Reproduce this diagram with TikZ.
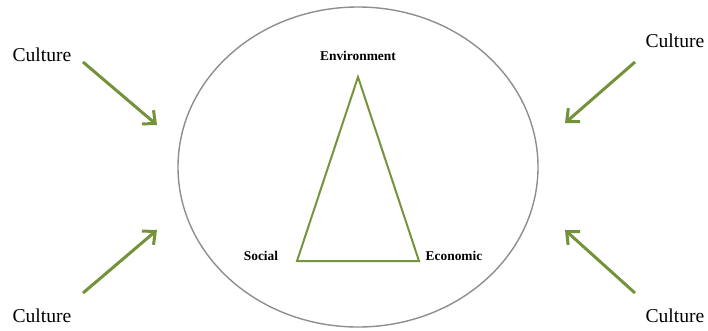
\documentclass[tikz,border=0pt]{standalone}
\usepackage{fontspec}
\setmainfont{Liberation Serif}
\usetikzlibrary{arrows.meta}
\definecolor{olivearrow}{HTML}{73923A}
\definecolor{olivetri}{HTML}{77933C}
\definecolor{ringgray}{HTML}{8E8E8E}
\tikzset{
  culture/.style={font=\fontsize{19.6}{22}\selectfont, inner sep=0pt},
  pillar/.style={font=\bfseries\fontsize{13.4}{15}\selectfont, inner sep=0pt},
  influence/.style={draw=olivearrow, line width=3pt, -{Straight Barb[length=10pt,width=18pt]}},
  ring/.style={draw=ringgray, line width=1.4pt},
  tri/.style={draw=olivetri, line width=2pt, line join=miter}
}
\begin{document}
\begin{tikzpicture}[x=1pt,y=-1pt]
\useasboundingbox (0,0) rectangle (708,330);
\draw[ring] (358,167) ellipse [x radius=180, y radius=160];
% triangle
\coordinate (apex) at (358,77);
\coordinate (bl) at (297,261);
\coordinate (br) at (419,261);
\draw[tri] (apex) -- (br) -- (bl) -- cycle;
\node[pillar] (env) at (358,56) {Environment};
\node[pillar] (soc) at (261,256) {Social};
\node[pillar] (eco) at (454,256) {Economic};
% culture labels
\node[culture] (ctl) at (42,55) {Culture};
\node[culture] (ctr) at (675,41) {Culture};
\node[culture] (cbl) at (42,316) {Culture};
\node[culture] (cbr) at (675,316) {Culture};
% arrows
\coordinate (tls) at (83,62);  \coordinate (tle) at (157,125);
\coordinate (bls) at (83,293); \coordinate (ble) at (157,230);
\coordinate (trs) at (635,62); \coordinate (tre) at (565,123);
\coordinate (brs) at (635,293);\coordinate (bre) at (565,230);
\draw[influence] (tls) -- (tle);
\draw[influence] (bls) -- (ble);
\draw[influence] (trs) -- (tre);
\draw[influence] (brs) -- (bre);
\end{tikzpicture}
\end{document}
